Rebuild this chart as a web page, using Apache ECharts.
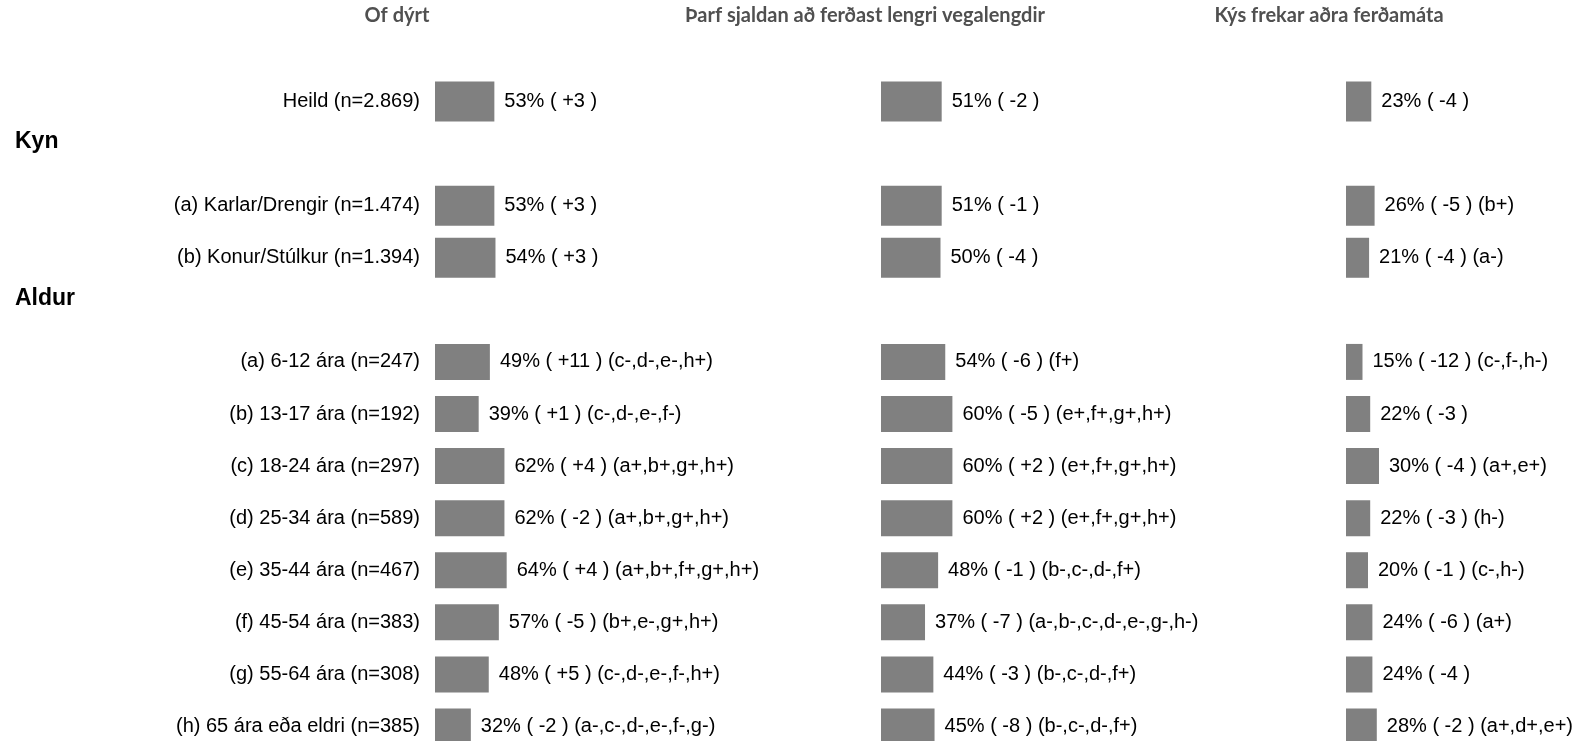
<!DOCTYPE html>
<html>
<head>
<meta charset="utf-8">
<script src="https://cdn.jsdelivr.net/npm/echarts@6/dist/echarts.min.js"></script>
<style>
html,body{margin:0;padding:0;background:#fff;}
#chart{width:1583px;height:741px;}
</style>
</head>
<body>
<div id="chart"></div>
<script>
// ---- data ----
const categories = [
  'Heild (n=2.869)', 'Kyn', '(a) Karlar/Drengir (n=1.474)', '(b) Konur/Stúlkur (n=1.394)', 'Aldur',
  '(a) 6-12 ára (n=247)', '(b) 13-17 ára (n=192)', '(c) 18-24 ára (n=297)', '(d) 25-34 ára (n=589)',
  '(e) 35-44 ára (n=467)', '(f) 45-54 ára (n=383)', '(g) 55-64 ára (n=308)', '(h) 65 ára eða eldri (n=385)'
];
const headerRows = ['Kyn', 'Aldur'];
const panelTitles = ['Of dýrt', 'Þarf sjaldan að ferðast lengri vegalengdir', 'Kýs frekar aðra ferðamáta'];

const ofDyrtValues  = [53, null, 53, 54, null, 49, 39, 62, 62, 64, 57, 48, 32];
const ofDyrtChange  = [3, null, 3, 3, null, 11, 1, 4, -2, 4, -5, 5, -2];
const ofDyrtSig     = ['', '', '', '', '', 'c-,d-,e-,h+', 'c-,d-,e-,f-', 'a+,b+,g+,h+', 'a+,b+,g+,h+', 'a+,b+,f+,g+,h+', 'b+,e-,g+,h+', 'c-,d-,e-,f-,h+', 'a-,c-,d-,e-,f-,g-'];

const sjaldanValues = [51, null, 51, 50, null, 54, 60, 60, 60, 48, 37, 44, 45];
const sjaldanChange = [-2, null, -1, -4, null, -6, -5, 2, 2, -1, -7, -3, -8];
const sjaldanSig    = ['', '', '', '', '', 'f+', 'e+,f+,g+,h+', 'e+,f+,g+,h+', 'e+,f+,g+,h+', 'b-,c-,d-,f+', 'a-,b-,c-,d-,e-,g-,h-', 'b-,c-,d-,f+', 'b-,c-,d-,f+'];

const adraValues    = [23, null, 26, 21, null, 15, 22, 30, 22, 20, 24, 24, 28];
const adraChange    = [-4, null, -5, -4, null, -12, -3, -4, -3, -1, -6, -4, -2];
const adraSig       = ['', '', 'b+', 'a-', '', 'c-,f-,h-', '', 'a+,e+', 'h-', 'c-,h-', 'a+', '', 'a+,d+,e+'];

const panels = [
  {values: ofDyrtValues, change: ofDyrtChange, sig: ofDyrtSig},
  {values: sjaldanValues, change: sjaldanChange, sig: sjaldanSig},
  {values: adraValues, change: adraChange, sig: adraSig}
];

// ---- layout (styles only) ----
const gridLefts  = [435, 881, 1346];
const gridWidths = [112, 119, 110];
const titleCenters = [397, 865, 1329];
const topRowsCount = 5; // Heild + Kyn block use wider bars
const FONT = '"Liberation Sans", Arial, sans-serif';
const GRID_TOP = 75.5, GRID_H = 677;

const chart = echarts.init(document.getElementById('chart'));

function labelText(p, i) {
  const v = p.values[i];
  const c = p.change[i];
  const cs = c > 0 ? '+' + c : String(c);
  let s = v + '% ( ' + cs + ' )';
  if (p.sig[i]) s += ' (' + p.sig[i] + ')';
  return s;
}

const grid = [], xAxis = [], yAxis = [], series = [], title = [];
panels.forEach((p, g) => {
  grid.push({left: gridLefts[g], width: gridWidths[g], top: GRID_TOP, height: GRID_H, containLabel: false, outerBoundsMode: 'none'});
  xAxis.push({type: 'value', gridIndex: g, min: 0, max: 100, show: false});
  yAxis.push({
    type: 'category', gridIndex: g, data: categories, inverse: true,
    axisLine: {show: false}, axisTick: {show: false}, splitLine: {show: false},
    axisLabel: {
      show: g === 0, margin: 15, fontSize: 20, color: '#000', fontFamily: FONT,
      formatter: v => headerRows.includes(v) ? '' : v
    }
  });
  yAxis.push({
    type: 'category', gridIndex: g, data: categories, inverse: true, show: false
  });
  const wideData = p.values.map((v, i) => i < topRowsCount ? v : null);
  const narrowData = p.values.map((v, i) => i >= topRowsCount ? v : null);
  const label = {
    show: true, position: 'right', distance: 10, fontSize: 20, color: '#000', fontFamily: FONT,
    formatter: prm => labelText(p, prm.dataIndex)
  };
  series.push({
    type: 'bar', xAxisIndex: g, yAxisIndex: g * 2, data: wideData, barWidth: 40,
    itemStyle: {color: '#808080'}, label: label, silent: true
  });
  series.push({
    type: 'bar', xAxisIndex: g, yAxisIndex: g * 2 + 1, data: narrowData, barWidth: 36,
    itemStyle: {color: '#808080'}, label: label, silent: true
  });
  title.push({
    text: panelTitles[g], left: titleCenters[g], top: 6, textAlign: 'center', padding: 0,
    textStyle: {fontFamily: 'Lato, "Open Sans", sans-serif', fontWeight: 'bold', fontSize: 20, color: '#505050'}
  });
});

// header rows axis (Kyn, Aldur) – left aligned labels
grid.push({left: gridLefts[0], width: gridWidths[0], top: GRID_TOP, height: GRID_H, outerBoundsMode: 'none'});
xAxis.push({type: 'value', gridIndex: 3, min: 0, max: 100, show: false});
yAxis.push({
  type: 'category', gridIndex: 3, data: categories, inverse: true,
  axisLine: {show: false}, axisTick: {show: false}, splitLine: {show: false},
  axisLabel: {
    margin: gridLefts[0] - 15, align: 'left', verticalAlign: 'bottom',
    fontSize: 23, fontWeight: 'bold', color: '#000', fontFamily: FONT,
    formatter: v => headerRows.includes(v) ? v : ''
  }
});

chart.setOption({
  animation: false,
  title: title,
  grid: grid,
  xAxis: xAxis,
  yAxis: yAxis,
  series: series
});
</script>
</body>
</html>
